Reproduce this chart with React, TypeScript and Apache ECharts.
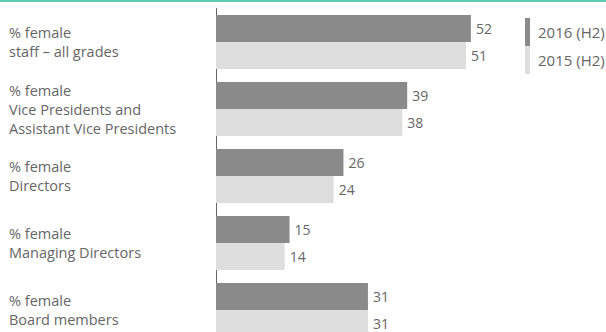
import React, { useEffect, useRef } from "react";
import * as echarts from "echarts";

const categories = [
  "% female\nstaff – all grades",
  "% female\nVice Presidents and\nAssistant Vice Presidents",
  "% female\nDirectors",
  "% female\nManaging Directors",
  "% female\nBoard members",
];
const series2016 = [52, 39, 26, 15, 31];
const series2015 = [51, 38, 24, 14, 31];
const seriesNames = ["2016 (H2)", "2015 (H2)"];

const FONT = "'Open Sans', 'Noto Sans', sans-serif";

export default function App() {
  const ref = useRef<HTMLDivElement>(null);
  useEffect(() => {
    if (!ref.current) return;
    const chart = echarts.init(ref.current, null, { renderer: "svg" });
    chart.setOption({
      animation: false,
      backgroundColor: "#ffffff",
      textStyle: { fontFamily: FONT },
      graphic: [
        {
          type: "line",
          shape: { x1: 0, y1: 1, x2: 606, y2: 1 },
          style: { stroke: "#5ec9b4", lineWidth: 2 },
        },
      ],
      legend: {
        orient: "vertical",
        left: 520,
        top: 13,
        itemWidth: 5,
        itemHeight: 28,
        itemGap: 0,
        icon: "rect",
        textStyle: { fontSize: 15, color: "#666", fontFamily: FONT, padding: [0, 0, 0, 3] },
        data: seriesNames,
      },
      grid: { left: 216, top: 8.5, width: 350, height: 335, containLabel: false },
      xAxis: {
        type: "value",
        min: 0,
        max: 71.4,
        show: false,
      },
      yAxis: {
        type: "category",
        inverse: true,
        data: categories,
        axisLine: { show: true, lineStyle: { color: "#666", width: 1 } },
        axisTick: { show: false },
        axisLabel: {
          align: "left",
          margin: 207,
          color: "#666",
          fontSize: 14.5,
          lineHeight: 19,
          fontFamily: FONT,
        },
      },
      series: [
        {
          name: seriesNames[0],
          type: "bar",
          data: series2016,
          barWidth: 27,
          barGap: "0%",
          itemStyle: { color: "#8a8a8a" },
          label: { show: true, position: "right", distance: 5, color: "#666", fontSize: 14, fontFamily: FONT },
        },
        {
          name: seriesNames[1],
          type: "bar",
          data: series2015,
          barWidth: 27,
          barGap: "0%",
          itemStyle: { color: "#dedede" },
          label: { show: true, position: "right", distance: 5, color: "#666", fontSize: 14, fontFamily: FONT },
        },
      ],
    });
    return () => chart.dispose();
  }, []);
  return (
    <div
      ref={ref}
      style={{ position: "fixed", left: 0, top: 0, width: 606, height: 350 }}
    />
  );
}
